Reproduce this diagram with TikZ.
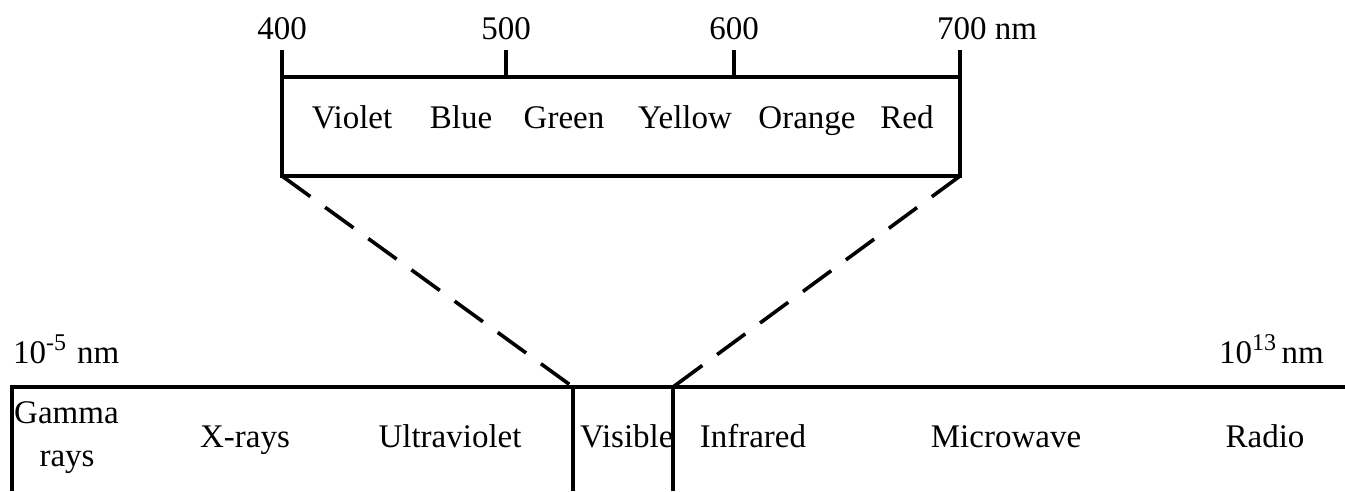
\documentclass[tikz,border=0pt]{standalone}
\usepackage{fontspec}
\setmainfont{Liberation Serif}
\begin{document}
\begin{tikzpicture}[x=1pt,y=-1pt,
  lbl/.style={inner sep=0pt,anchor=base,font=\fontsize{33}{40}\selectfont},
  lblw/.style={lbl,anchor=base west},
  thick line/.style={line width=4.5pt,line join=miter},
  zoomline/.style={line width=3.6pt,dash pattern=on 35pt off 18.3pt}]
\useasboundingbox (0,0) rectangle (1345,491);
% coordinates
\coordinate (tl) at (282,77);
\coordinate (tr) at (960,77);
\coordinate (bl) at (282,176);
\coordinate (br) at (960,176);
\coordinate (k400) at (282,50);
\coordinate (k500) at (506,50);
\coordinate (k500b) at (506,77);
\coordinate (k600) at (734,50);
\coordinate (k600b) at (734,77);
\coordinate (k700) at (960,50);
\coordinate (sl) at (12,491);
\coordinate (stl) at (12,387);
\coordinate (str) at (1345,387);
\coordinate (d1t) at (573,387);
\coordinate (d1b) at (573,491);
\coordinate (d2t) at (673,387);
\coordinate (d2b) at (673,491);
% top box
\draw[thick line] (k400) -- (bl) -- (br) -- (k700);
\draw[thick line] (tl) -- (tr);
\draw[thick line] (k500) -- (k500b);
\draw[thick line] (k600) -- (k600b);
% tick labels
\node[lbl] (n400) at (282,39) {400};
\node[lbl] (n500) at (506,39) {500};
\node[lbl] (n600) at (734,39) {600};
\node[lblw] (n700) at (937,39) {700 nm};
% colours
\node[lbl] (violet) at (352,128) {Violet};
\node[lbl] (blue) at (461,128) {Blue};
\node[lbl] (green) at (564,128) {Green};
\node[lbl] (yellow) at (685,128) {Yellow};
\node[lbl] (orange) at (807,128) {Orange};
\node[lbl] (red) at (907,128) {Red};
% dashed zoom lines
\draw[zoomline] (bl) -- (d1t);
\draw[zoomline] (br) -- (d2t);
% bottom box
\draw[thick line] (sl) -- (stl) -- (str);
\draw[thick line] (d1t) -- (d1b);
\draw[thick line] (d2t) -- (d2b);
% range labels
\node[lblw] (lo) at (13,363) {10\raisebox{13pt}{\fontsize{24}{24}\selectfont -5}\,\,nm};
\node[lblw] (hi) at (1219,363) {10\raisebox{13pt}{\fontsize{24}{24}\selectfont 13}\,nm};
% band labels
\node[lblw] (gamma) at (14,423) {Gamma};
\node[lbl] (rays) at (67,466) {rays};
\node[lbl] (xrays) at (245,447) {X-rays};
\node[lbl] (uv) at (450,447) {Ultraviolet};
\node[lblw] (visible) at (580,447) {Visible};
\node[lbl] (ir) at (753,447) {Infrared};
\node[lbl] (mw) at (1006,447) {Microwave};
\node[lbl] (radio) at (1265,447) {Radio};
\end{tikzpicture}
\end{document}
